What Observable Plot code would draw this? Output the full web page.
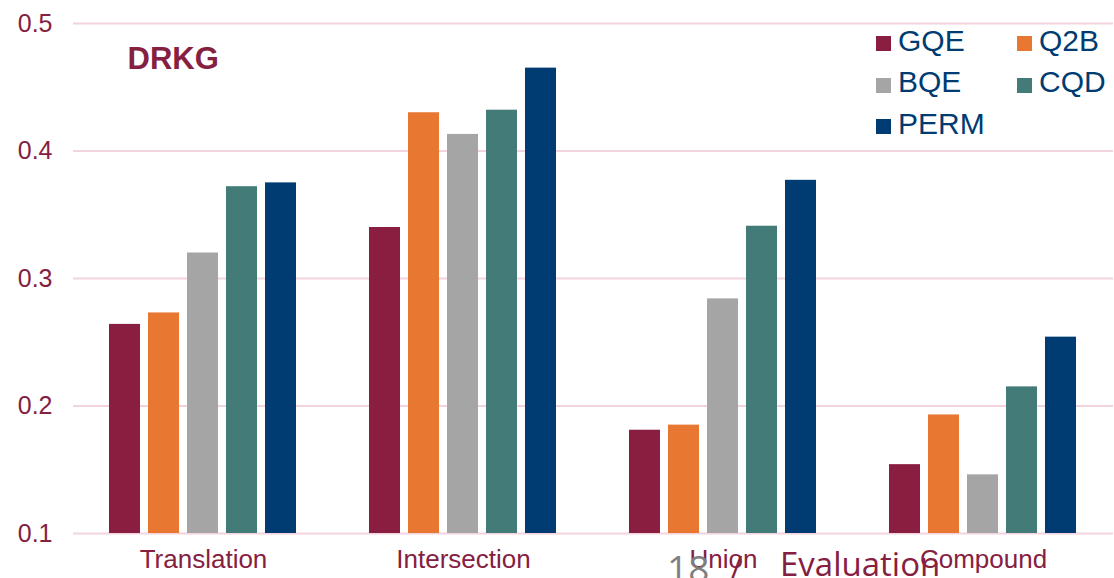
<!DOCTYPE html>
<html>
<head>
<meta charset="utf-8">
<script src="https://cdn.jsdelivr.net/npm/d3@7"></script>
<script src="https://cdn.jsdelivr.net/npm/@observablehq/plot@0.6"></script>
<style>
  html, body { margin: 0; padding: 0; background: #fff; }
  #wrap { position: relative; width: 1114px; height: 578px; overflow: hidden; font-family: "Liberation Sans", Arial, sans-serif; }
  .sw { position: absolute; width: 15px; height: 15px; }
  .lbl { position: absolute; font-size: 30px; line-height: 30px; color: #003C71; white-space: nowrap; }
  #footer { position: absolute; top: 540px; left: 0; width: 1114px; height: 50px; font-family: "Open Sans", "Noto Sans", sans-serif; pointer-events: none; }
  #footer span { position: absolute; white-space: nowrap; }
</style>
</head>
<body>
<div id="wrap">
  <div id="chart"></div>
  <div id="legend"></div>
  <div id="footer">
    <span style="left:667px; top:2px; font-size:37px; color:#7F7F7F;">18</span>
    <span style="left:731px; top:5px; font-size:31px; color:#862041;">/</span>
    <span style="left:780px; top:1px; font-size:33px; color:#862041;">Evaluation</span>
  </div>
</div>
<script>
// Query types (groups) and models (bars within a group)
const categories = ["Translation", "Intersection", "Union", "Compound"];
const models = ["GQE", "Q2B", "BQE", "CQD", "PERM"];

// Scores per model, in the order of `categories`
const GQE  = [0.264, 0.340, 0.181, 0.154];
const Q2B  = [0.273, 0.430, 0.185, 0.193];
const BQE  = [0.320, 0.413, 0.284, 0.146];
const CQD  = [0.372, 0.432, 0.341, 0.215];
const PERM = [0.375, 0.465, 0.377, 0.254];

const yTicks = [0.1, 0.2, 0.3, 0.4, 0.5];
const modelColors = ["#8A1E41", "#E87731", "#A5A5A5", "#427B77", "#003C71"];
const datasetName = "DRKG";

const series = {GQE, Q2B, BQE, CQD, PERM};
const rows = categories.flatMap((c, i) =>
  models.map(m => ({category: c, model: m, value: series[m][i]}))
);
const baseline = yTicks[0];
const maroon = "#862041";

const chart = Plot.plot({
  width: 1114,
  height: 578,
  marginLeft: 71,
  marginRight: 0,
  marginTop: 23,
  marginBottom: 45,
  style: {fontFamily: "'Liberation Sans', Arial, sans-serif", background: "#fff"},
  fx: {domain: categories, padding: 0},
  x: {domain: models, paddingInner: 0.2, paddingOuter: 0.87, axis: null},
  y: {domain: [yTicks[0], yTicks[yTicks.length - 1]]},
  color: {domain: models, range: modelColors},
  marks: [
    Plot.gridY(yTicks, {stroke: "#F3D3DE", strokeOpacity: 1, strokeWidth: 2}),
    Plot.barY(rows, {
      fx: "category",
      x: "model",
      y1: baseline,
      y2: "value",
      fill: "model"
    }),
    Plot.axisY(yTicks, {
      line: true,
      tickSize: 0,
      tickPadding: 21,
      fontSize: 25,
      fill: maroon,
      stroke: maroon,
      strokeWidth: 2,
      label: null,
      tickFormat: d3.format(".1f")
    }),
    Plot.axisFx({
      anchor: "bottom",
      tickSize: 0,
      tickPadding: 16,
      fontSize: 26,
      fill: maroon,
      label: null
    }),
    Plot.text([datasetName], {
      fx: () => categories[0],
      frameAnchor: "top-left",
      dx: 54,
      dy: 23,
      lineAnchor: "top",
      text: d => d,
      fontSize: 31,
      fontWeight: "bold",
      fill: maroon
    })
  ]
});
document.getElementById("chart").appendChild(chart);

// Legend in two columns, top right
const legend = document.getElementById("legend");
models.forEach((m, i) => {
  const col = i % 2, row = Math.floor(i / 2);
  const left = 876 + col * 141;
  const top = row * 41.5;
  const sw = document.createElement("div");
  sw.className = "sw";
  sw.style.left = left + "px";
  sw.style.top = (top + 36) + "px";
  sw.style.background = modelColors[i];
  const lbl = document.createElement("div");
  lbl.className = "lbl";
  lbl.style.left = (left + 22) + "px";
  lbl.style.top = (top + 25.5) + "px";
  lbl.textContent = m;
  legend.appendChild(sw);
  legend.appendChild(lbl);
});
</script>
</body>
</html>
